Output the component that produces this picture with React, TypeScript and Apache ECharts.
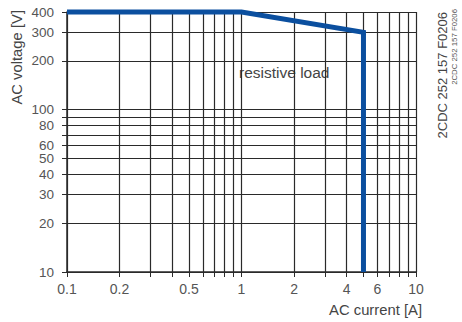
import React, { useEffect, useRef } from "react";
import * as echarts from "echarts";

const xGrid = [0.1, 0.2, 0.3, 0.4, 0.5, 0.6, 0.7, 0.8, 0.9, 1, 2, 3, 4, 5, 6, 7, 8, 9, 10];
const yGrid = [10, 20, 30, 40, 50, 60, 70, 80, 90, 100, 200, 300, 400];
const xLabels = [0.1, 0.2, 0.5, 1, 2, 4, 6, 10];
const yLabels = [10, 20, 30, 40, 50, 60, 80, 100, 200, 300, 400];
const curveX = [0.1, 1, 5, 5];
const curveY = [400, 400, 300, 10];
const codeText = "2CDC 252 157 F0206";

export default function App() {
  const ref = useRef<HTMLDivElement>(null);
  useEffect(() => {
    const chart = echarts.init(ref.current!, null, { renderer: "svg" });
    const font = "'Liberation Sans', Arial, sans-serif";
    const gridColor = "#2a2a2a";
    chart.setOption({
      animation: false,
      grid: { left: 67, right: 46, top: 12, bottom: 50 },
      xAxis: {
        type: "log",
        min: 0.1,
        max: 10,
        axisLine: { show: true, lineStyle: { color: gridColor, width: 1.5 } },
        axisTick: { show: true, length: 5, customValues: xGrid, lineStyle: { color: gridColor, width: 1 } },
        axisLabel: {
          customValues: xLabels,
          color: "#555",
          fontSize: 14,
          fontFamily: font,
          margin: 10,
          formatter: (v: number) => String(v),
        },
        splitLine: { show: false },
      },
      yAxis: {
        type: "log",
        min: 10,
        max: 400,
        axisLine: { show: true, lineStyle: { color: gridColor, width: 1.5 } },
        axisTick: { show: true, length: 5, customValues: yGrid, lineStyle: { color: gridColor, width: 1 } },
        axisLabel: {
          customValues: yLabels,
          color: "#555",
          fontSize: 13.5,
          fontFamily: font,
          margin: 13,
          formatter: (v: number) => String(v),
        },
        splitLine: { show: false },
      },
      series: [
        {
          type: "line",
          data: [],
          silent: true,
          markLine: {
            silent: true,
            symbol: "none",
            animation: false,
            label: { show: false },
            lineStyle: { color: gridColor, width: 1.2, type: "solid" },
            data: [
              ...xGrid.map((v) => ({ xAxis: v })),
              ...yGrid.map((v) => ({ yAxis: v })),
            ],
          },
        },
        {
          type: "line",
          data: curveX.map((x, i) => [x, curveY[i]]),
          symbol: "none",
          clip: false,
          z: 5,
          lineStyle: { color: "#0b4f9f", width: 5, join: "miter" },
        },
      ],
      graphic: [
        {
          type: "rect",
          shape: { x: 233, y: 59, width: 109, height: 25 },
          style: { fill: "#fff" },
          z: 3,
        },
        {
          type: "text",
          x: 239,
          y: 72,
          z: 4,
          style: { text: "resistive load", font: `15.5px ${font}`, fill: "#444", verticalAlign: "middle" },
        },
        {
          type: "text",
          x: 17,
          y: 10,
          rotation: Math.PI / 2,
          style: { text: "AC voltage [V]", font: `14.8px ${font}`, fill: "#444", align: "right", verticalAlign: "middle" },
        },
        {
          type: "text",
          x: 422,
          y: 310,
          style: { text: "AC current [A]", font: `14.8px ${font}`, fill: "#444", align: "right", verticalAlign: "middle" },
        },
        {
          type: "text",
          x: 442,
          y: 12,
          rotation: Math.PI / 2,
          style: { text: codeText, font: `13px ${font}`, fill: "#444", align: "right", verticalAlign: "middle" },
        },
        {
          type: "text",
          x: 454,
          y: 9,
          rotation: Math.PI / 2,
          style: { text: codeText, font: `7.8px ${font}`, fill: "#555", align: "right", verticalAlign: "middle" },
        },
      ],
    });
    return () => chart.dispose();
  }, []);
  return <div ref={ref} style={{ width: 462, height: 322, position: "absolute", left: 0, top: 0 }} />;
}
